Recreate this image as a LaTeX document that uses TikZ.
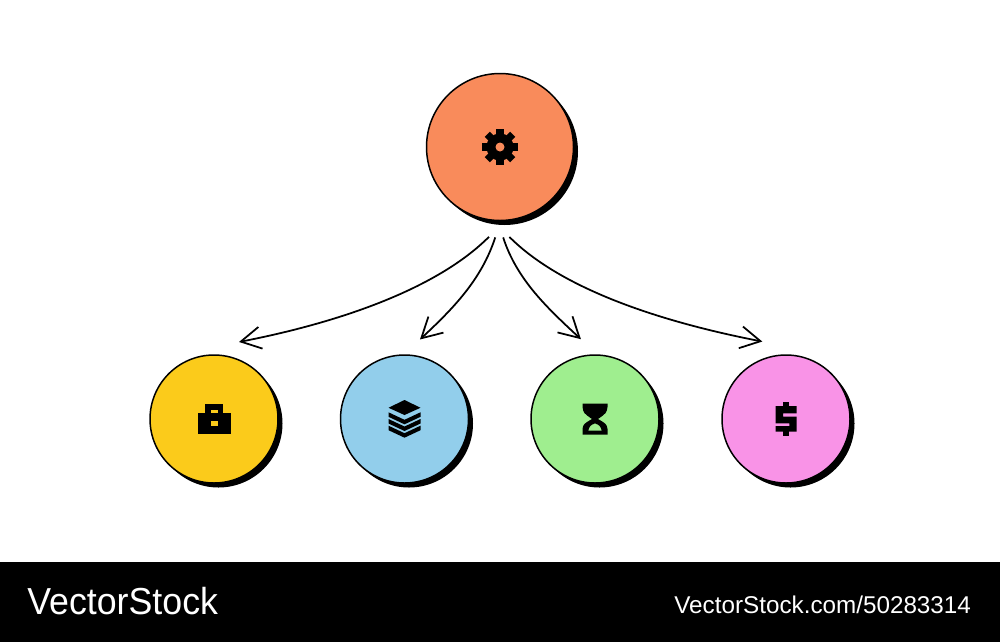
\documentclass[tikz,border=0pt]{standalone}
\usepackage{fontspec}
\setmainfont{Liberation Sans}
\newfontfamily\logofont[FakeStretch=0.95]{Liberation Sans}
\usetikzlibrary{shadows, arrows.meta}
\definecolor{hubcolor}{HTML}{F98B5B}
\definecolor{casecolor}{HTML}{FBCB1B}
\definecolor{layercolor}{HTML}{92CEEB}
\definecolor{glasscolor}{HTML}{9FEE8F}
\definecolor{dollarcolor}{HTML}{F993E7}
\tikzstyle{disc} = [circle, draw=black, line width=0.85pt, minimum size=2.56cm, outer sep=0.34cm, drop shadow={shadow xshift=0.09cm, shadow yshift=-0.09cm, opacity=1, fill=black}]
\tikzstyle{hubdisc} = [disc, minimum size=2.94cm]
\tikzstyle{arrow} = [line width=1pt, -{Straight Barb[length=0.4cm, width=0.44cm]}]
\tikzstyle{brand} = [anchor=base west, text=white, inner sep=0pt]

\begin{document}
\begin{tikzpicture}
    \useasboundingbox (0,0) rectangle (20,-12.84);
    \fill [black] (0,-11.24) rectangle (20,-12.84);
    \node [hubdisc, fill=hubcolor] at (10,-2.94) (hub) {};
    \node [disc, fill=casecolor] at (4.28,-8.38) (case) {};
    \node [disc, fill=layercolor] at (8.09,-8.38) (layers) {};
    \node [disc, fill=glasscolor] at (11.9,-8.38) (glass) {};
    \node [disc, fill=dollarcolor] at (15.72,-8.38) (dollar) {};
    \draw [arrow] (hub.263.7) to [out=225, in=11, out looseness=0.7, in looseness=0.95] (case.72);
    \draw [arrow] (hub.267.5) to [out=252, in=43, looseness=0.9] (layers.79);
    \draw [arrow] (hub.272.5) to [out=288, in=137, looseness=0.9] (glass.100);
    \draw [arrow] (hub.276.5) to [out=315, in=169, out looseness=0.7, in looseness=0.95] (dollar.107);
    % gear
    \begin{scope}[shift={(hub)}]
        \foreach \a in {0,45,...,315}
            \fill [rotate=\a] (-0.072,0) rectangle (0.072,0.36);
        \fill (0,0) circle (0.27);
        \fill [hubcolor] (0,0) circle (0.09);
    \end{scope}
    % briefcase
    \begin{scope}[shift={(case)}]
        \fill (-0.18,0.294) rectangle (0.186,0.1);
        \fill (-0.326,0.126) rectangle (0.334,-0.30);
        \fill [casecolor] (-0.066,0.18) rectangle (0.074,0.126);
        \fill [casecolor] (-0.066,-0.034) rectangle (0.07,-0.134);
    \end{scope}
    % stack
    \begin{scope}[shift={(layers)}]
        \fill (-0.32,0.225) -- (0,0.38) -- (0.32,0.225) -- (0,0.08) -- cycle;
        \foreach \b in {-0.106,-0.24,-0.374}
            \fill (-0.32,\b+0.15) -- (0,\b) -- (0.32,\b+0.15) -- (0.32,\b+0.24) -- (0,\b+0.09) -- (-0.32,\b+0.24) -- cycle;
    \end{scope}
    % hourglass
    \begin{scope}[shift={(glass)}]
        \fill [even odd rule] (-0.25,0.31) -- (0.25,0.31) -- (0.25,0.24) .. controls (0.23,0.12) .. (0.06,0) .. controls (0.23,-0.1) .. (0.25,-0.2) -- (0.25,-0.31) -- (-0.25,-0.31) -- (-0.25,-0.2) .. controls (-0.23,-0.1) .. (-0.06,0) .. controls (-0.23,0.12) .. (-0.25,0.24) -- cycle
            (-0.137,-0.234) -- (0.137,-0.234) .. controls (0.1,-0.13) .. (0,-0.087) .. controls (-0.1,-0.13) .. (-0.137,-0.234) -- cycle;
    \end{scope}
    % dollar sign
    \begin{scope}[shift={(dollar)}]
        \fill (-0.21,0.26) -- (0.21,0.26) -- (0.21,0.114) -- (-0.06,0.114) -- (-0.06,0.046) -- (0.21,0.046) -- (0.21,-0.254) -- (-0.21,-0.254) -- (-0.21,-0.14) -- (0.066,-0.14) -- (0.066,-0.086) -- (-0.21,-0.086) -- cycle;
        \fill (-0.066,0.34) rectangle (0.066,0.2);
        \fill (-0.066,-0.34) rectangle (0.066,-0.2);
    \end{scope}
    \node [brand, font=\logofont\fontsize{21.4}{24}\selectfont] at (0.54,-12.28) (logo) {VectorStock};
    \node [brand, font=\fontsize{13.8}{16}\selectfont] at (13.48,-12.26) (link) {VectorStock.com/50283314};
\end{tikzpicture}
\end{document}
